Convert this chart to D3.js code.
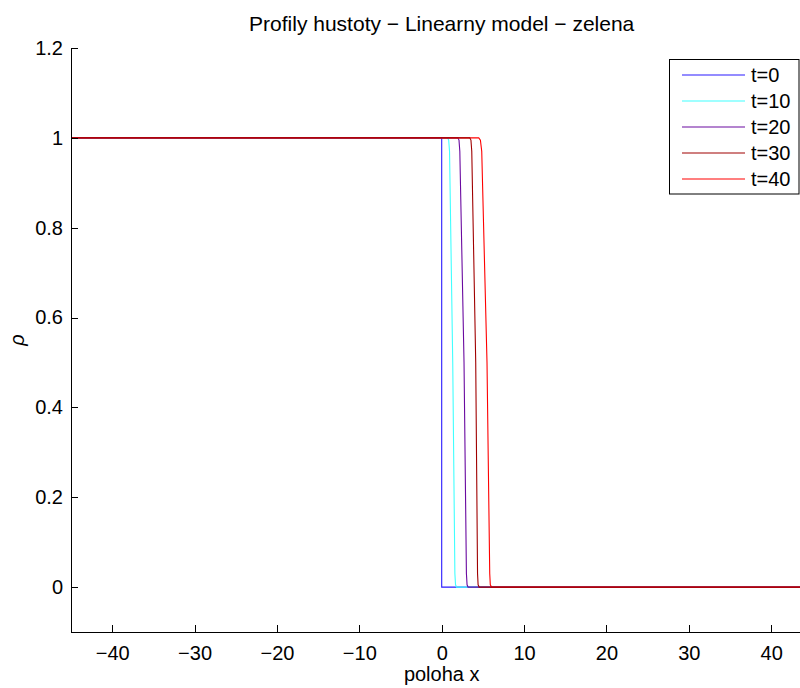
<!DOCTYPE html>
<html>
<head>
<meta charset="utf-8">
<script src="https://cdn.jsdelivr.net/npm/d3@7/dist/d3.min.js"></script>
<style>
  html, body { margin: 0; padding: 0; background: #fff; }
  svg { display: block; font-family: "Liberation Sans", Arial, Helvetica, sans-serif; }
</style>
</head>
<body>
<svg id="chart" width="800" height="688"></svg>
<script>
// Density profiles rho(x) at successive times
const seriesLabels = ["t=0", "t=10", "t=20", "t=30", "t=40"];
const seriesColors = ["#2a1aff", "#40ffff", "#6a0aa0", "#a00000", "#ff0000"];

const xT0  = [-45, 0, 0, 45];
const rhoT0 = [1, 1, 0, 0];
const xT10  = [-45, 0.7, 0.85, 0.95, 1.34, 1.60, 1.68, 1.8, 45];
const rhoT10 = [1, 1, 0.995, 0.97, 0.5, 0.03, 0.005, 0, 0];
const xT20  = [-45, 1.95, 2.1, 2.2, 2.71, 3.0, 3.08, 3.2, 45];
const rhoT20 = [1, 1, 0.995, 0.97, 0.5, 0.03, 0.005, 0, 0];
const xT30  = [-45, 3.4, 3.55, 3.65, 4.13, 4.35, 4.42, 4.55, 45];
const rhoT30 = [1, 1, 0.995, 0.97, 0.5, 0.03, 0.005, 0, 0];
const xT40  = [-45, 4.5, 4.7, 4.86, 5.5, 5.83, 5.9, 6.05, 45];
const rhoT40 = [1, 1, 0.995, 0.97, 0.5, 0.03, 0.005, 0, 0];

const profilesX = [xT0, xT10, xT20, xT30, xT40];
const profilesRho = [rhoT0, rhoT10, rhoT20, rhoT30, rhoT40];
// t=30 is painted last so it sits on top where the profiles overlap
const drawOrder = [0, 1, 2, 4, 3];

const xTicks = [-40, -30, -20, -10, 0, 10, 20, 30, 40];
const yTicks = [0, 0.2, 0.4, 0.6, 0.8, 1, 1.2];

const titleText = "Profily hustoty \u2212 Linearny model \u2212 zelena";
const xLabelText = "poloha x";
const yLabelText = "\u03C1";

const svg = d3.select("#chart");
const W = 800, H = 688;
const plot = { left: 71, right: 812.4, top: 48, bottom: 632 };
const fontSize = 20;

const x = d3.scaleLinear().domain([-45, 45]).range([plot.left, plot.right]);
const y = d3.scaleLinear().domain([-0.1, 1.2]).range([plot.bottom, plot.top]);

svg.append("rect").attr("width", W).attr("height", H).attr("fill", "#fff");

// curves
const clip = svg.append("clipPath").attr("id", "plotclip")
  .append("rect").attr("x", plot.left).attr("y", plot.top)
  .attr("width", plot.right - plot.left).attr("height", plot.bottom - plot.top);

const line = d3.line().x(d => x(d[0])).y(d => y(d[1]));
const curves = svg.append("g").attr("clip-path", "url(#plotclip)");
drawOrder.forEach(i => {
  const pts = profilesX[i].map((v, k) => [v, profilesRho[i][k]]);
  curves.append("path")
    .attr("d", line(pts))
    .attr("fill", "none")
    .attr("stroke", seriesColors[i])
    .attr("stroke-width", 1.1);
});

// axes
const fmtX = d => (d < 0 ? "\u2212" + Math.abs(d) : String(d));
const fmtY = d => String(d);

const xAxis = svg.append("g")
  .attr("transform", `translate(0,${plot.bottom})`)
  .call(d3.axisBottom(x).tickValues(xTicks).tickFormat(fmtX).tickSizeInner(-7).tickSizeOuter(0).tickPadding(14));
const yAxis = svg.append("g")
  .attr("transform", `translate(${plot.left},0)`)
  .call(d3.axisLeft(y).tickValues(yTicks).tickFormat(fmtY).tickSizeInner(-7).tickSizeOuter(0).tickPadding(8));

[xAxis, yAxis].forEach(g => {
  g.selectAll("path.domain").attr("stroke", "#000").attr("shape-rendering", "crispEdges");
  g.selectAll(".tick line").attr("stroke", "#000").attr("shape-rendering", "crispEdges");
  g.selectAll(".tick text")
    .attr("fill", "#000")
    .style("font-size", fontSize + "px")
    .style("font-family", "'Liberation Sans', Arial, sans-serif");
});
// tick labels below the axis, y ticks pointing inward
xAxis.selectAll(".tick text").attr("y", 14).attr("dy", "0.71em");
yAxis.selectAll(".tick text").attr("x", -8);

// title and axis labels
const cx = (plot.left + plot.right) / 2;
svg.append("text")
  .attr("x", cx).attr("y", 31)
  .attr("text-anchor", "middle")
  .style("font-size", "21px")
  .text(titleText);

svg.append("text")
  .attr("x", cx).attr("y", 681)
  .attr("text-anchor", "middle")
  .style("font-size", fontSize + "px")
  .text(xLabelText);

svg.append("text")
  .attr("transform", `translate(24,${(plot.top + plot.bottom) / 2}) rotate(-90)`)
  .attr("text-anchor", "middle")
  .style("font-size", fontSize + "px")
  .style("font-style", "italic")
  .text(yLabelText);

// legend
const leg = { x0: 669.5, y0: 59.5, x1: 799, rowH: 26, firstRow: 75 };
const legG = svg.append("g");
legG.append("rect")
  .attr("x", leg.x0).attr("y", leg.y0)
  .attr("width", leg.x1 - leg.x0)
  .attr("height", leg.firstRow - leg.y0 + leg.rowH * (seriesLabels.length - 1) + 15)
  .attr("fill", "#fff").attr("stroke", "#000").attr("stroke-width", 1);
seriesLabels.forEach((lab, i) => {
  const yy = leg.firstRow + i * leg.rowH;
  legG.append("line")
    .attr("x1", 682).attr("x2", 745)
    .attr("y1", yy).attr("y2", yy)
    .attr("stroke", seriesColors[i]).attr("stroke-width", 1.1);
  legG.append("text")
    .attr("x", 751).attr("y", yy)
    .attr("dy", "0.35em")
    .style("font-size", fontSize + "px")
    .text(lab);
});
</script>
</body>
</html>
